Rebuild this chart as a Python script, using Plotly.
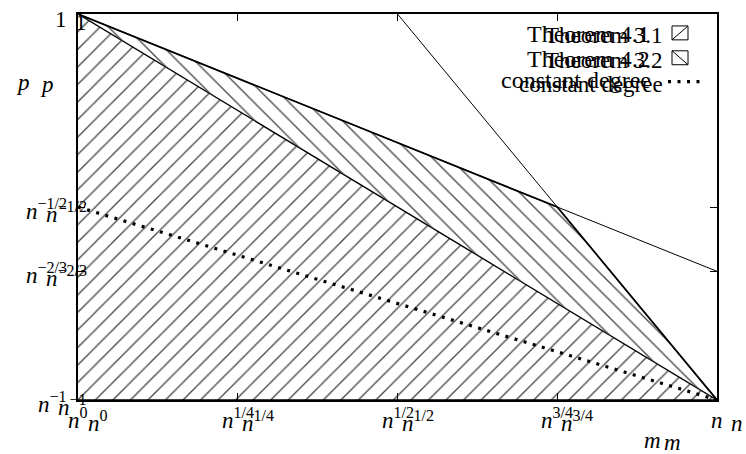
import plotly.graph_objects as go

# ---- data (exponents of n) ----
thm41_x = [0, 1, 0]
thm41_y = [0, -1, -1]
thm42_x = [0, 0.75, 1]
thm42_y = [0, -0.5, -1]
bound_b_x = [0, 1]
bound_b_y = [0, -2/3]
bound_c_x = [0.5, 1]
bound_c_y = [0, -1]
const_x = [0, 1]
const_y = [-0.5, -1]

x_ticks = [0, 0.25, 0.5, 0.75, 1]
x_labels = ["<i>n</i><sup>0</sup>", "<i>n</i><sup>1/4</sup>", "<i>n</i><sup>1/2</sup>",
            "<i>n</i><sup>3/4</sup>", "<i>n</i>"]
y_ticks = [0, -0.5, -2/3, -1]
y_labels = ["1", "<i>n</i><sup>\u22121/2</sup>", "<i>n</i><sup>\u22122/3</sup>",
            "<i>n</i><sup>\u22121</sup>"]
legend_a = ["Theorem 4.1", "Theorem 4.2", "constant degree"]
legend_b = ["Theorem 3.1", "Theorem 3.2", "constant degree"]

FONT = "Liberation Serif"
FS = 23
DESC = 10                     # baseline -> annotation box bottom (px)
W, H = 746, 454
L, T = 78, 12
PW, PH = 639, 388
R, B = W - L - PW, H - T - PH
HATCH = "#4a4a4a"


def px(x):  # pixel x -> paper
    return (x - L) / PW


def py(y):  # pixel y -> paper
    return (T + PH - y) / PH


fig = go.Figure()

fig.add_trace(go.Scatter(x=bound_b_x, y=bound_b_y, mode="lines",
                         line=dict(color="black", width=1), showlegend=False, hoverinfo="skip"))
fig.add_trace(go.Scatter(x=bound_c_x, y=bound_c_y, mode="lines",
                         line=dict(color="black", width=1), showlegend=False, hoverinfo="skip"))
fig.add_trace(go.Scatter(x=thm41_x, y=thm41_y, mode="lines", fill="toself",
                         fillcolor="rgba(0,0,0,0)",
                         fillpattern=dict(shape="/", size=12.4, solidity=0.11, fgcolor=HATCH,
                                          fgopacity=1, bgcolor="rgba(0,0,0,0)"),
                         line=dict(color="black", width=1.4), showlegend=False, hoverinfo="skip"))
fig.add_trace(go.Scatter(x=thm42_x, y=thm42_y, mode="lines", fill="toself",
                         fillcolor="rgba(0,0,0,0)",
                         fillpattern=dict(shape="\\", size=12.4, solidity=0.11, fgcolor=HATCH,
                                          fgopacity=1, bgcolor="rgba(0,0,0,0)"),
                         line=dict(color="black", width=1.8), showlegend=False, hoverinfo="skip"))
fig.add_trace(go.Scatter(x=const_x, y=const_y, mode="lines",
                         line=dict(color="black", width=3.2, dash="3px,6.5px"),
                         showlegend=False, hoverinfo="skip"))

ann = []
# x tick labels (two overlapping copies)
for v, t in zip(x_ticks, x_labels):
    ann.append(dict(x=v, y=0, xref="x", yref="paper", text=t, showarrow=False,
                    xanchor="center", yanchor="bottom", yshift=-(25 + DESC),
                    font=dict(family=FONT, size=FS, color="black")))
    ann.append(dict(x=v, y=0, xref="x", yref="paper", text=t, showarrow=False,
                    xanchor="center", yanchor="bottom", yshift=-(28 + DESC), xshift=20,
                    font=dict(family=FONT, size=FS, color="black")))
# y tick labels
for v, t in zip(y_ticks, y_labels):
    base = 10 if "sup" not in t else 9
    ann.append(dict(x=0, y=v, xref="paper", yref="y", text=t, showarrow=False,
                    xanchor="right", yanchor="bottom", xshift=-9, yshift=-(base + DESC),
                    font=dict(family=FONT, size=FS, color="black")))
    ann.append(dict(x=0, y=v, xref="paper", yref="y", text=t, showarrow=False,
                    xanchor="right", yanchor="bottom", xshift=11, yshift=-(base + 3 + DESC),
                    font=dict(family=FONT, size=FS, color="black")))
# axis titles
for xs, bl in [(23, 85), (46.5, 87)]:
    ann.append(dict(x=px(xs), y=py(bl + DESC), xref="paper", yref="paper", text="<i>p</i>",
                    showarrow=False, xanchor="center", yanchor="bottom",
                    font=dict(family=FONT, size=FS, color="black")))
for xs, bl in [(652.5, 445), (672, 447)]:
    ann.append(dict(x=px(xs), y=py(bl + DESC), xref="paper", yref="paper", text="<i>m</i>",
                    showarrow=False, xanchor="center", yanchor="bottom",
                    font=dict(family=FONT, size=FS, color="black")))
# legend text
rows_a = [(652, 37), (652, 62), (653, 83)]
rows_b = [(665, 38), (665, 63), (665, 87)]
for name, (xr, bl) in zip(legend_a, rows_a):
    ann.append(dict(x=px(xr), y=py(bl + DESC), xref="paper", yref="paper", text=name,
                    showarrow=False, xanchor="right", yanchor="bottom",
                    font=dict(family=FONT, size=FS + 1, color="black")))
for name, (xr, bl) in zip(legend_b, rows_b):
    ann.append(dict(x=px(xr), y=py(bl + DESC), xref="paper", yref="paper", text=name,
                    showarrow=False, xanchor="right", yanchor="bottom",
                    font=dict(family=FONT, size=FS, color="black")))

shapes = []
# legend key boxes
for (y0, y1, diag) in [(24, 38, "/"), (49, 63, "\\")]:
    shapes.append(dict(type="rect", xref="paper", yref="paper",
                       x0=px(672), x1=px(688), y0=py(y1), y1=py(y0),
                       line=dict(color="black", width=1)))
    if diag == "/":
        shapes.append(dict(type="line", xref="paper", yref="paper",
                           x0=px(672), y0=py(y1), x1=px(688), y1=py(y0),
                           line=dict(color="black", width=1)))
    else:
        shapes.append(dict(type="line", xref="paper", yref="paper",
                           x0=px(672), y0=py(y0), x1=px(688), y1=py(y1),
                           line=dict(color="black", width=1)))
shapes.append(dict(type="line", xref="paper", yref="paper",
                   x0=px(668), y0=py(80), x1=px(702), y1=py(80),
                   line=dict(color="black", width=3.2, dash="3px,6.5px")))

axis_common = dict(showgrid=False, zeroline=False, showticklabels=False,
                   showline=True, linecolor="black", linewidth=1.5, mirror="ticks",
                   ticks="inside", ticklen=7, tickcolor="black", tickwidth=1)

fig.update_layout(
    width=W, height=H,
    margin=dict(l=L, r=R, t=T, b=B),
    paper_bgcolor="white", plot_bgcolor="white",
    xaxis=dict(range=[0, 1], tickvals=x_ticks, **axis_common),
    yaxis=dict(range=[-1, 0], tickvals=y_ticks, **axis_common),
    annotations=ann, shapes=shapes, showlegend=False,
)

fig.write_html("out.html", config={"displayModeBar": False},
               post_script="document.body.style.margin='0px';document.body.style.overflow='hidden';")
